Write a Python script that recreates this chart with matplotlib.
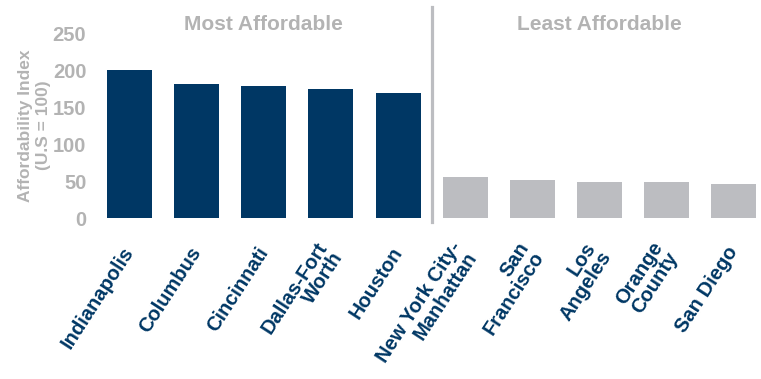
import matplotlib
matplotlib.use("Agg")
import matplotlib.pyplot as plt
import numpy as np

plt.rcParams["font.family"] = ["Liberation Sans", "DejaVu Sans"]

cities = ["Indianapolis", "Columbus", "Cincinnati", "Dallas-Fort\nWorth", "Houston",
          "New York City-\nManhattan", "San\nFrancisco", "Los\nAngeles", "Orange\nCounty",
          "San Diego"]
index_values = [200, 181, 179, 175, 169, 56, 52, 49, 48, 46]
group_titles = ["Most Affordable", "Least Affordable"]
y_ticks = [0, 50, 100, 150, 200, 250]

NAVY = "#003764"
LIGHT = "#bcbdc1"
TEXT_GRAY = "#b3b3b3"

fig = plt.figure(figsize=(7.61, 3.79), dpi=100)
ax = fig.add_axes([0.1262, 0.4248, 0.8686, 0.4881])

x = np.arange(len(cities))
colors = [NAVY] * 5 + [LIGHT] * 5
ax.bar(x, index_values, width=0.67, color=colors)

ax.set_xlim(-0.5, 9.35)
ax.set_ylim(0, 250)
ax.set_yticks(y_ticks)
ax.set_yticklabels([str(t) for t in y_ticks], fontsize=14.5, fontweight="bold", color=TEXT_GRAY)
ax.tick_params(axis="y", length=0, pad=7)

ax.set_xticks(x)
ax.set_xticklabels(cities, rotation=57, ha="right", va="center", rotation_mode="anchor",
                   multialignment="right", fontsize=14.5, fontweight="bold", color=NAVY,
                   linespacing=0.95)
ax.tick_params(axis="x", length=0, pad=22)

for side in ["top", "right", "left", "bottom"]:
    ax.spines[side].set_visible(False)

ax.set_ylabel("Affordability Index\n(U.S = 100)", fontsize=12.5, fontweight="bold",
              color=TEXT_GRAY, labelpad=1, linespacing=1.3)

# divider between the two groups, running up past the plot area
ax.axvline(4.5, ymin=-0.02, ymax=1.14, color=LIGHT, linewidth=2.3, clip_on=False)

ax.text(2, 1.045, group_titles[0], transform=ax.get_xaxis_transform(), ha="center",
        va="center", fontsize=15, fontweight="bold", color=TEXT_GRAY)
ax.text(7, 1.045, group_titles[1], transform=ax.get_xaxis_transform(), ha="center",
        va="center", fontsize=15, fontweight="bold", color=TEXT_GRAY)

fig.savefig("out.png", dpi=100)
